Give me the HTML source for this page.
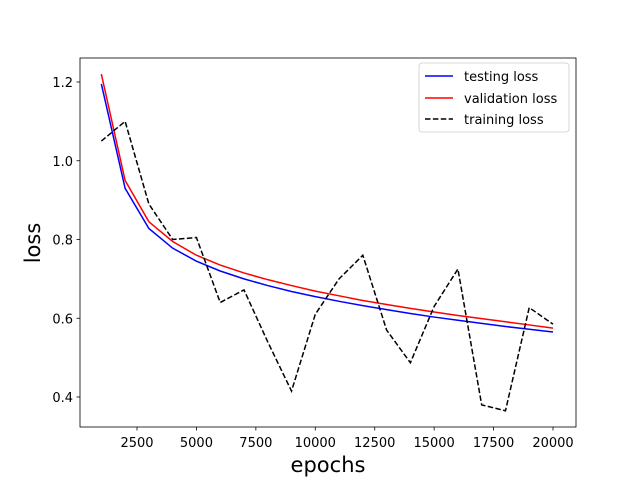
<!DOCTYPE html>
<html><head><meta charset="utf-8"><style>
body{margin:0;background:#fff;}
svg text{font-family:"DejaVu Sans","Liberation Sans",sans-serif;fill:#000;}
</style></head><body>
<svg id="chart" width="640" height="480" xmlns="http://www.w3.org/2000/svg">
<rect width="640" height="480" fill="#fff"/>
<g id="plot"></g>
</svg>
<script>
const epochs=[1000,2000,3000,4000,5000,6000,7000,8000,9000,10000,11000,12000,13000,14000,15000,16000,17000,18000,19000,20000];
const testingLoss=[1.195,0.93,0.828,0.778,0.745,0.72,0.70,0.683,0.668,0.655,0.643,0.632,0.622,0.612,0.603,0.595,0.587,0.579,0.572,0.565];
const validationLoss=[1.22,0.95,0.845,0.795,0.76,0.735,0.715,0.698,0.683,0.669,0.657,0.645,0.635,0.625,0.616,0.607,0.599,0.591,0.583,0.575];
const trainingLoss=[1.05,1.10,0.89,0.80,0.805,0.64,0.672,0.54,0.415,0.61,0.70,0.76,0.57,0.487,0.63,0.725,0.38,0.365,0.627,0.585];
const xTicks=[2500,5000,7500,10000,12500,15000,17500,20000];
const yTicks=[0.4,0.6,0.8,1.0,1.2];

const L=80,R=576,T=58,B=427;
const xs=v=>137+(v-2500)*(416/17500);
const ys=v=>397-(v-0.4)*393.75;
const NS="http://www.w3.org/2000/svg";
const g=document.getElementById('plot');
function el(tag,attrs,parent){const e=document.createElementNS(NS,tag);for(const k in attrs)e.setAttribute(k,attrs[k]);(parent||g).appendChild(e);return e;}

function series(data,color,dash,name){
  const p=el('polyline',{points:data.map((v,i)=>xs(epochs[i])+','+ys(v)).join(' '),fill:'none',stroke:color,'stroke-width':1.5});
  if(dash)p.setAttribute('stroke-dasharray',dash);
  
  
}
series(testingLoss,'#0000ff',null,'testing-loss-line');
series(validationLoss,'#ff0000',null,'validation-loss-line');
series(trainingLoss,'#000','5.5,2.4','training-loss-line');

const frame=el('rect',{x:L,y:T,width:R-L,height:B-T,fill:'none',stroke:'#000','stroke-width':0.8});



xTicks.forEach(v=>{
  const x=xs(v);
  el('line',{x1:x,x2:x,y1:B,y2:B+3.5,stroke:'#000','stroke-width':0.8});
  const t=el('text',{x:x,y:B+20,'font-size':13,'text-anchor':'middle'});t.textContent=v;
  
  
});
yTicks.forEach(v=>{
  const y=ys(v);
  el('line',{x1:L,x2:L-3.5,y1:y,y2:y,stroke:'#000','stroke-width':0.8});
  const t=el('text',{x:L-7,y:y+5,'font-size':13,'text-anchor':'end'});t.textContent=v.toFixed(1);
  
  
});
const xt=el('text',{x:328,y:472,'font-size':21,'text-anchor':'middle'});xt.textContent='epochs';


const yt=el('text',{x:0,y:0,'font-size':21,'text-anchor':'middle',transform:'translate(40,243) rotate(-90)'});yt.textContent='loss';



const lg=el('g',{});


el('rect',{x:419,y:63,width:150,height:69,rx:3,fill:'#fff','fill-opacity':0.8,stroke:'#ccc','stroke-width':0.8},lg);
[['testing loss','#0000ff',null,76],['validation loss','#ff0000',null,98],['training loss','#000','5.5,2.4',119]].forEach(([lab,c,d,y])=>{
  const ln=el('line',{x1:425,x2:453,y1:y,y2:y,stroke:c,'stroke-width':1.5},lg);
  if(d)ln.setAttribute('stroke-dasharray',d);
  const t=el('text',{x:464,y:y+5,'font-size':13},lg);t.textContent=lab;
  
  
});
</script>
</body></html>
